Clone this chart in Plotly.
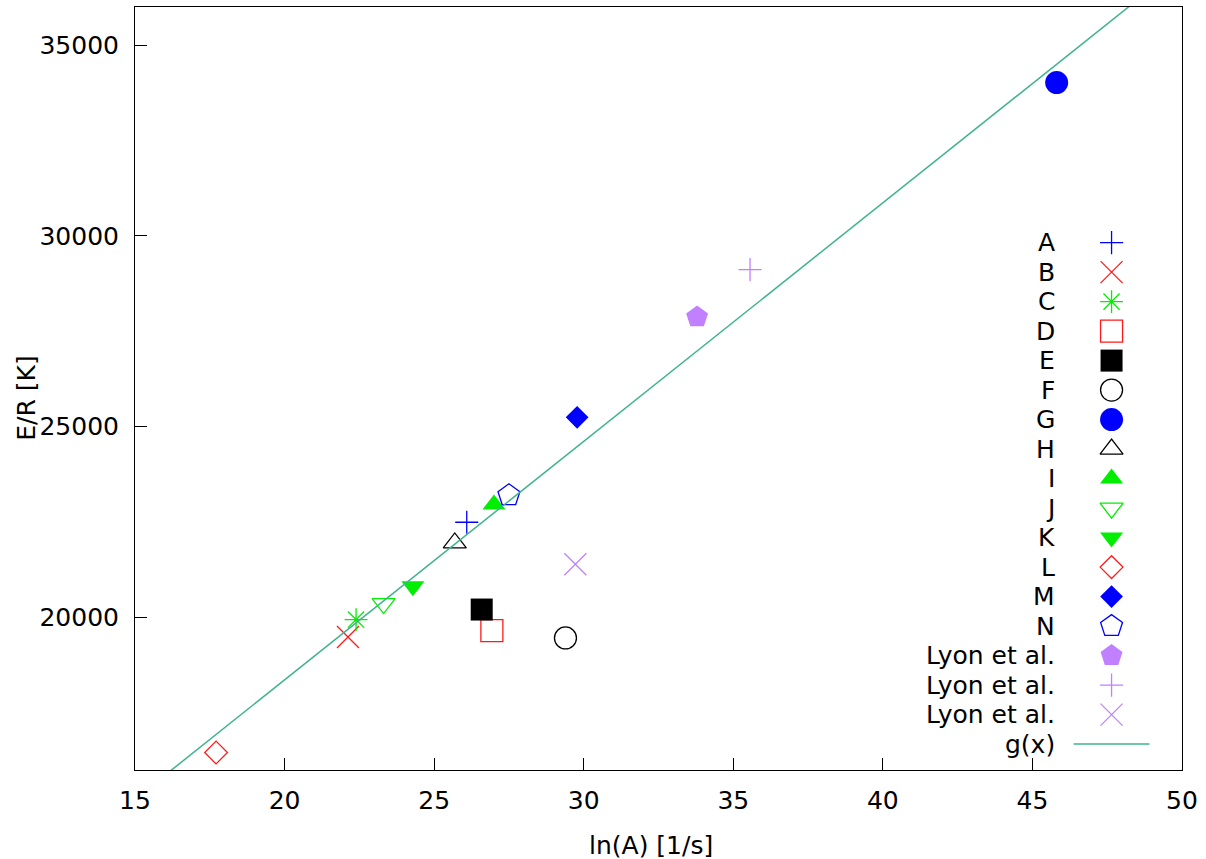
import plotly.graph_objects as go

# ---- data ----
series_labels = ["A", "B", "C", "D", "E", "F", "G", "H", "I", "J", "K", "L", "M", "N",
                 "Lyon et al.", "Lyon et al.", "Lyon et al."]
ln_A = [26.09, 22.12, 22.39, 26.93, 26.59, 29.39, 45.81, 25.69, 27.00, 23.31, 24.29,
        17.71, 29.78, 27.50, 33.79, 35.56, 29.72]
E_over_R = [22494, 19488, 19943, 19655, 20206, 19461, 34018, 21951, 22958, 20363, 20816,
            16458, 25246, 23202, 27875, 29117, 21393]
fit_slope = 625.2       # g(x) = fit_slope * x + fit_intercept
fit_intercept = 5859.0
fit_label = "g(x)"
x_ticks = [15, 20, 25, 30, 35, 40, 45, 50]
y_ticks = [20000, 25000, 30000, 35000]

# ---- styles ----
BLUE, RED, GREEN, BLACK, PURPLE = "#0000ff", "#ff1a1a", "#00ee00", "#000000", "#c080ff"
FIT_COLOR = "#3fb38e"
styles = [
    ("cross-thin", BLUE, 16.5),
    ("x-thin", RED, 22),
    ("asterisk", GREEN, 19),
    ("square-open", RED, 22),
    ("square", BLACK, 22),
    ("circle-open", BLACK, 22),
    ("circle", BLUE, 23),
    ("triangle-up-open", BLACK, 20),
    ("triangle-up", GREEN, 20),
    ("triangle-down-open", GREEN, 20),
    ("triangle-down", GREEN, 20),
    ("diamond-open", RED, 17.5),
    ("diamond", BLUE, 17.5),
    ("pentagon-open", BLUE, 23),
    ("pentagon", PURPLE, 23),
    ("cross-thin", PURPLE, 16.5),
    ("x-thin", PURPLE, 22),
]

FONT = "DejaVu Sans"
FS = 25

# plot-area pixel geometry (for legend overlay)
PX0, PX1, PY0, PY1 = 134.6, 1182.5, 6.7, 769.7
W, H = 1206, 859

fig = go.Figure()


def marker_for(sym, col, size):
    filled = not (sym.endswith("-open") or sym in ("cross-thin", "x-thin", "asterisk"))
    return dict(symbol=sym, color=col, size=size,
                line=dict(color=col, width=0 if filled else 1.3))


# data points
for lab, x, y, (sym, col, size) in zip(series_labels, ln_A, E_over_R, styles):
    fig.add_trace(go.Scatter(x=[x], y=[y], mode="markers", name=lab,
                             marker=marker_for(sym, col, size),
                             showlegend=False, cliponaxis=False))

# fitted line g(x)
xs = [x_ticks[0] + i * (x_ticks[-1] - x_ticks[0]) / 100 for i in range(101)]
fig.add_trace(go.Scatter(x=xs, y=[fit_slope * v + fit_intercept for v in xs],
                         mode="lines", line=dict(color=FIT_COLOR, width=1.5),
                         showlegend=False, name=fit_label))

# custom legend (text right-aligned, key to the right) on a pixel overlay axis
row0, step = 242.3, 29.5
lab_x, key_x = 1057, 1112
leg_labels = series_labels + [fit_label]
annotations = []
for i, lab in enumerate(leg_labels):
    yy = row0 + i * step
    annotations.append(dict(x=lab_x, y=yy, xref="x2", yref="y2", text=lab,
                            showarrow=False, xanchor="right", yanchor="middle",
                            font=dict(family=FONT, size=FS, color="black")))
    if i < len(styles):
        sym, col, size = styles[i]
        fig.add_trace(go.Scatter(x=[key_x], y=[yy], xaxis="x2", yaxis="y2",
                                 mode="markers", marker=marker_for(sym, col, size),
                                 showlegend=False, hoverinfo="skip"))
    else:
        fig.add_trace(go.Scatter(x=[1074, 1150], y=[yy, yy], xaxis="x2", yaxis="y2",
                                 mode="lines", line=dict(color=FIT_COLOR, width=1.5),
                                 showlegend=False, hoverinfo="skip"))

# axis titles
annotations.append(dict(x=(651 - PX0) / (PX1 - PX0), y=(PY1 - 845) / (PY1 - PY0),
                        xref="paper", yref="paper", text="ln(A) [1/s]", showarrow=False,
                        xanchor="center", yanchor="middle",
                        font=dict(family=FONT, size=FS, color="black")))
annotations.append(dict(x=(26 - PX0) / (PX1 - PX0), y=(PY1 - 398) / (PY1 - PY0),
                        xref="paper", yref="paper", text="E/R [K]", showarrow=False,
                        textangle=-90, xanchor="center", yanchor="middle",
                        font=dict(family=FONT, size=FS, color="black")))

axis_common = dict(showgrid=False, zeroline=False, showline=True, mirror=True,
                   linecolor="black", linewidth=1, ticks="inside", ticklen=12,
                   tickwidth=1, tickcolor="black", tickformat="d",
                   tickfont=dict(family=FONT, size=FS, color="black"))

fig.update_layout(
    width=W, height=H,
    margin=dict(l=PX0, r=W - PX1, t=PY0, b=H - PY1, pad=0),
    plot_bgcolor="white", paper_bgcolor="white",
    xaxis=dict(range=[x_ticks[0], x_ticks[-1]], tickvals=x_ticks, ticklabelstandoff=8,
               **axis_common),
    yaxis=dict(range=[16000, 36000], tickvals=y_ticks, ticklabelstandoff=10, **axis_common),
    xaxis2=dict(range=[PX0, PX1], overlaying="x", anchor="y2", visible=False),
    yaxis2=dict(range=[PY1, PY0], overlaying="y", anchor="x2", visible=False),
    annotations=annotations,
    showlegend=False,
)

fig.write_html("out.html", config={"displayModeBar": False},
               post_script="document.body.style.margin='0';document.body.style.overflow='hidden';")
